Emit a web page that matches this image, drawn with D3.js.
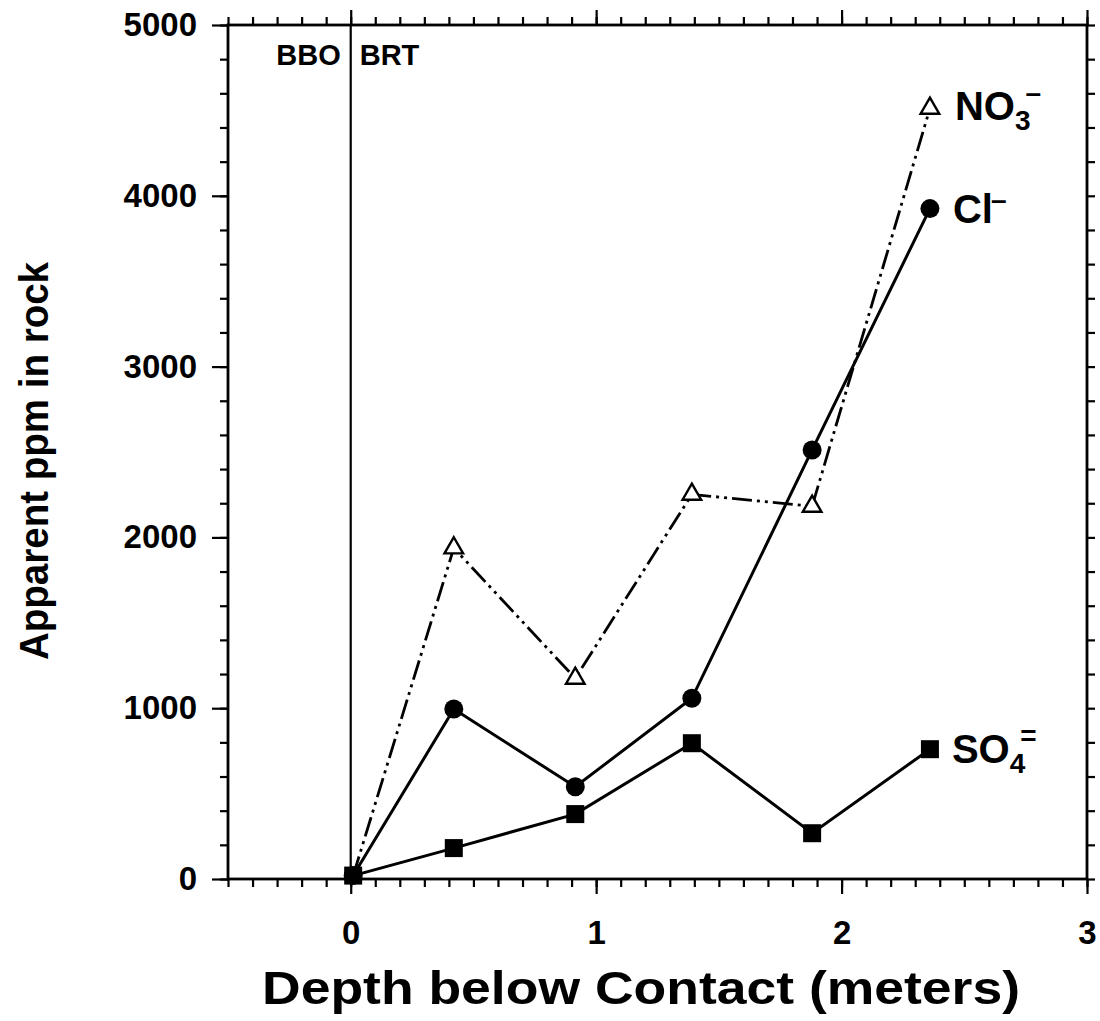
<!DOCTYPE html>
<html><head><meta charset="utf-8">
<script src="https://cdn.jsdelivr.net/npm/d3@7"></script>
<style>
body{margin:0;background:#fff;}
svg{display:block;font-family:"Liberation Sans",Arial,sans-serif;}
</style></head>
<body><svg id="c" width="1100" height="1021"></svg>
<script>
const depth = [0.01, 0.42, 0.915, 1.39, 1.88, 2.36];
const cl    = [20, 995, 540, 1058, 2512, 3925];
const no3   = [20, 1938, 1175, 2252, 2182, 4512];
const so4   = [20, 181, 380, 795, 268, 760];
const xTickLabels = [0, 1, 2, 3];
const yTickLabels = [0, 1000, 2000, 3000, 4000, 5000];
const xDomain = [-0.5, 3];
const yDomain = [0, 5000];

const svg = d3.select("#c");
const L = 228, R = 1087, T = 25, B = 879;
const x = d3.scaleLinear().domain(xDomain).range([L, R]);
const y = d3.scaleLinear().domain(yDomain).range([B, T]);

const xMinor = d3.range(-5, 31).map(d => d / 10);
const yMinor = d3.range(0, 5001, 200);

function styleAxis(g){
  g.select(".domain").remove();
  g.selectAll(".tick line").attr("stroke","#000").attr("stroke-width",2.2);
  g.selectAll("text").attr("fill","#000");
}
// bottom
svg.append("g").attr("transform",`translate(0,${B})`)
  .call(d3.axisBottom(x).tickValues(xMinor).tickSize(8).tickFormat("")).call(styleAxis);
svg.append("g").attr("transform",`translate(0,${B})`)
  .call(d3.axisBottom(x).tickValues(xTickLabels).tickSize(15).tickPadding(27).tickFormat(d3.format("d")))
  .call(styleAxis)
  .selectAll("text").attr("font-size",33).attr("font-weight","bold");
// top
svg.append("g").attr("transform",`translate(0,${T})`)
  .call(d3.axisTop(x).tickValues(xMinor).tickSize(8).tickFormat("")).call(styleAxis);
svg.append("g").attr("transform",`translate(0,${T})`)
  .call(d3.axisTop(x).tickValues(xTickLabels).tickSize(15).tickFormat("")).call(styleAxis);
// left
svg.append("g").attr("transform",`translate(${L},0)`)
  .call(d3.axisLeft(y).tickValues(yMinor).tickSize(8).tickFormat("")).call(styleAxis);
svg.append("g").attr("transform",`translate(${L},0)`)
  .call(d3.axisLeft(y).tickValues(yTickLabels).tickSize(16).tickPadding(15).tickFormat(d3.format("d")))
  .call(styleAxis)
  .selectAll("text").attr("font-size",33).attr("font-weight","bold");
// right
svg.append("g").attr("transform",`translate(${R},0)`)
  .call(d3.axisRight(y).tickValues(yMinor).tickSize(8).tickFormat("")).call(styleAxis);

// frame
svg.append("rect").attr("x",L).attr("y",T).attr("width",R-L).attr("height",B-T)
  .attr("fill","none").attr("stroke","#000").attr("stroke-width",2.8);

// contact line
svg.append("line").attr("x1",x(0)).attr("x2",x(0)).attr("y1",T).attr("y2",B)
  .attr("stroke","#000").attr("stroke-width",2.2);
svg.append("text").attr("x",x(0)-10).attr("y",65).attr("text-anchor","end")
  .attr("font-size",29).attr("font-weight","bold").text("BBO");
svg.append("text").attr("x",x(0)+9).attr("y",65).attr("text-anchor","start")
  .attr("font-size",29).attr("font-weight","bold").text("BRT");

const line = d3.line().x(d => x(d[0])).y(d => y(d[1]));
const pts = arr => depth.map((d,i) => [d, arr[i]]);

// NO3 dash-dot-dot
svg.append("path").datum(pts(no3)).attr("d",line).attr("fill","none")
  .attr("stroke","#000").attr("stroke-width",2.8).attr("stroke-dasharray","20 5 3 5 3 5");
// Cl
svg.append("path").datum(pts(cl)).attr("d",line).attr("fill","none")
  .attr("stroke","#000").attr("stroke-width",3);
// SO4
svg.append("path").datum(pts(so4)).attr("d",line).attr("fill","none")
  .attr("stroke","#000").attr("stroke-width",3);

// markers
svg.append("g").selectAll("rect").data(pts(so4)).join("rect")
  .attr("x",d=>x(d[0])-9).attr("y",d=>y(d[1])-9).attr("width",18).attr("height",18).attr("fill","#000");
svg.append("g").selectAll("circle").data(pts(cl)).join("circle")
  .attr("cx",d=>x(d[0])).attr("cy",d=>y(d[1])).attr("r",9.5).attr("fill","#000");
const tri = d3.symbol().type(d3.symbolTriangle).size(150);
svg.append("g").selectAll("path").data(pts(no3).slice(1)).join("path")
  .attr("transform",d=>`translate(${x(d[0])},${y(d[1])})`).attr("d",tri)
  .attr("fill","#fff").attr("stroke","#000").attr("stroke-width",2.4);

// series labels
function label(xp, yp, main, sub, sup){
  const t = svg.append("text").attr("x",xp).attr("y",yp).attr("font-size",40).attr("font-weight","bold");
  t.append("tspan").text(main);
  if(sub){ t.append("tspan").attr("font-size",28).attr("dy",10).text(sub);
           t.append("tspan").attr("font-size",28).attr("dy",-28).attr("dx",-5).text(sup); }
  else { t.append("tspan").attr("font-size",28).attr("dy",-14).attr("dx",-2).text(sup); }
}
label(x(2.36)+25, y(4512)+12, "NO", "3", "\u2013");
label(x(2.36)+23, y(3925)+14, "Cl", null, "\u2013");
label(x(2.36)+22, y(760)+14, "SO", "4", "=");

// axis titles
svg.append("text").attr("x",641).attr("y",1004).attr("text-anchor","middle")
  .attr("font-size",47).attr("font-weight","bold")
  .attr("textLength",758).attr("lengthAdjust","spacingAndGlyphs")
  .text("Depth below Contact (meters)");
svg.append("text").attr("transform","translate(48,461) rotate(-90)").attr("text-anchor","middle")
  .attr("font-size",41).attr("font-weight","bold")
  .attr("textLength",398).attr("lengthAdjust","spacingAndGlyphs")
  .text("Apparent ppm in rock");
</script></body></html>
